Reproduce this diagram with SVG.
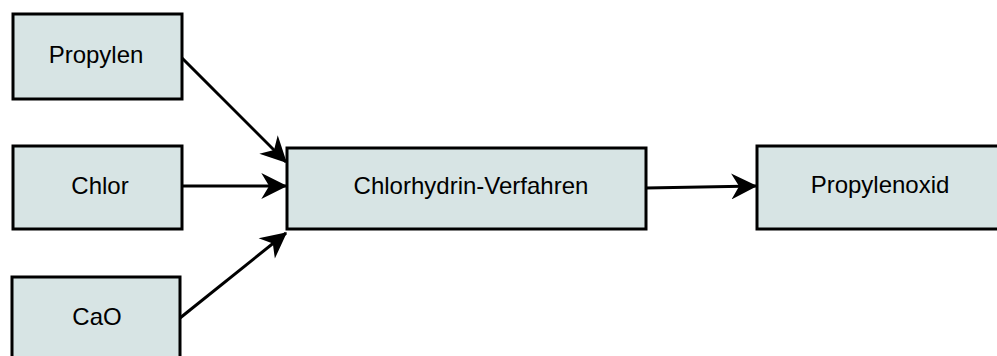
<svg xmlns="http://www.w3.org/2000/svg" width="997" height="356" viewBox="0 0 997 356">
<style>
.box{fill:#d7e4e4;stroke:#000;stroke-width:3}
.lbl{font-family:"Liberation Sans",Arial,sans-serif;font-size:24px;fill:#000;text-anchor:middle}
.edge{stroke:#000;stroke-width:3;fill:none;marker-end:url(#ah)}
</style>
<defs>
<marker id="ah" viewBox="0 0 10 10" refX="9.5" refY="5" markerWidth="28" markerHeight="26" markerUnits="userSpaceOnUse" orient="auto">
<path d="M0,0 L10,5 L0,10 L3,5 Z" fill="#000"/>
</marker>
</defs>
<g id="connectors">
<line class="edge" x1="182" y1="58" x2="286" y2="162"/>
<line class="edge" x1="182" y1="186" x2="286" y2="186"/>
<line class="edge" x1="180" y1="318" x2="286" y2="233"/>
<line class="edge" x1="646" y1="188" x2="756" y2="186"/>
</g>
<g id="propylen">
<rect class="box" x="13" y="14" width="169" height="85"/>
<text class="lbl" x="96" y="63">Propylen</text>
</g>
<g id="chlor">
<rect class="box" x="13" y="146" width="169" height="83"/>
<text class="lbl" x="100" y="194">Chlor</text>
</g>
<g id="cao">
<rect class="box" x="12" y="277" width="168" height="84"/>
<text class="lbl" x="97" y="325">CaO</text>
</g>
<g id="chlorhydrin">
<rect class="box" x="287" y="148" width="359" height="81"/>
<text class="lbl" x="471" y="194">Chlorhydrin-Verfahren</text>
</g>
<g id="propylenoxid">
<rect class="box" x="757" y="146" width="242" height="83"/>
<text class="lbl" x="880" y="193">Propylenoxid</text>
</g>
</svg>
